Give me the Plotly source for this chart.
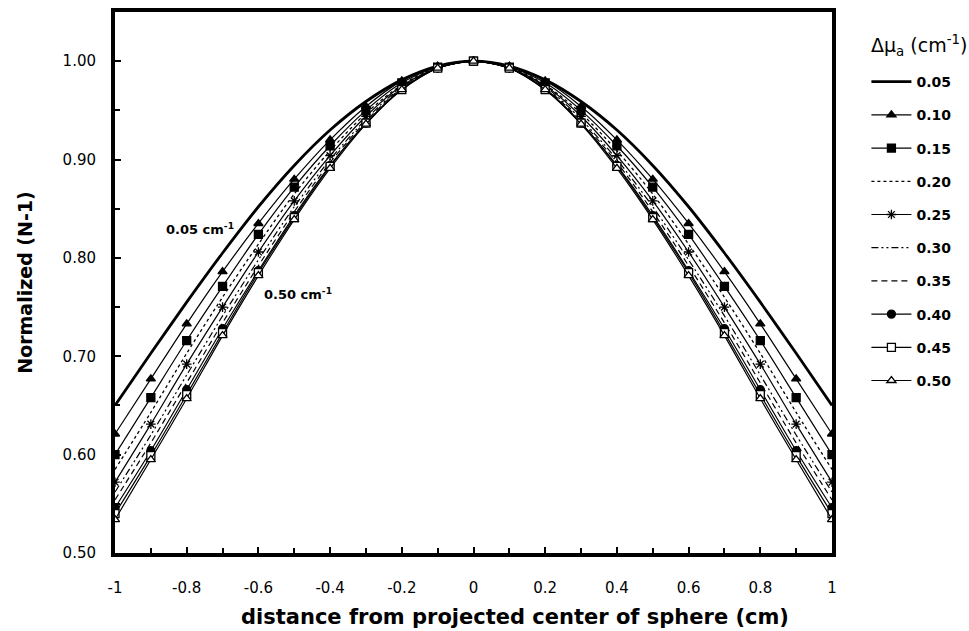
import plotly.graph_objects as go

# distance from projected center of sphere (cm)
x = [-1.0, -0.9, -0.8, -0.7, -0.6, -0.5, -0.4, -0.3, -0.2, -0.1, 0.0,
     0.1, 0.2, 0.3, 0.4, 0.5, 0.6, 0.7, 0.8, 0.9, 1.0]

labels = ["0.05", "0.10", "0.15", "0.20", "0.25", "0.30", "0.35", "0.40", "0.45", "0.50"]

# normalized (N-1) for each absorption change
y_005 = [0.650, 0.703, 0.755, 0.805, 0.852, 0.894, 0.930, 0.959, 0.981, 0.995, 1.000,
         0.995, 0.981, 0.959, 0.930, 0.894, 0.852, 0.805, 0.755, 0.703, 0.650]
y_010 = [0.621, 0.677, 0.733, 0.786, 0.835, 0.880, 0.920, 0.954, 0.980, 0.995, 1.000,
         0.995, 0.980, 0.954, 0.920, 0.880, 0.835, 0.786, 0.733, 0.677, 0.621]
y_015 = [0.600, 0.658, 0.716, 0.771, 0.824, 0.872, 0.914, 0.950, 0.978, 0.994, 1.000,
         0.994, 0.978, 0.950, 0.914, 0.872, 0.824, 0.771, 0.716, 0.658, 0.600]
y_020 = [0.585, 0.643, 0.703, 0.760, 0.814, 0.865, 0.909, 0.947, 0.976, 0.994, 1.000,
         0.994, 0.976, 0.947, 0.909, 0.865, 0.814, 0.760, 0.703, 0.643, 0.585]
y_025 = [0.572, 0.631, 0.692, 0.750, 0.806, 0.858, 0.904, 0.944, 0.975, 0.993, 1.000,
         0.993, 0.975, 0.944, 0.904, 0.858, 0.806, 0.750, 0.692, 0.631, 0.572]
y_030 = [0.562, 0.620, 0.681, 0.741, 0.798, 0.852, 0.900, 0.941, 0.974, 0.993, 1.000,
         0.993, 0.974, 0.941, 0.900, 0.852, 0.798, 0.741, 0.681, 0.620, 0.562]
y_035 = [0.554, 0.612, 0.673, 0.734, 0.792, 0.847, 0.897, 0.939, 0.973, 0.993, 1.000,
         0.993, 0.973, 0.939, 0.897, 0.847, 0.792, 0.734, 0.673, 0.612, 0.554]
y_040 = [0.546, 0.604, 0.666, 0.728, 0.787, 0.843, 0.894, 0.937, 0.972, 0.993, 1.000,
         0.993, 0.972, 0.937, 0.894, 0.843, 0.787, 0.728, 0.666, 0.604, 0.546]
y_045 = [0.540, 0.599, 0.661, 0.724, 0.785, 0.841, 0.893, 0.937, 0.971, 0.993, 1.000,
         0.993, 0.971, 0.937, 0.893, 0.841, 0.785, 0.724, 0.661, 0.599, 0.540]
y_050 = [0.534, 0.595, 0.657, 0.721, 0.782, 0.839, 0.891, 0.936, 0.971, 0.993, 1.000,
         0.993, 0.971, 0.936, 0.891, 0.839, 0.782, 0.721, 0.657, 0.595, 0.534]

series = [y_005, y_010, y_015, y_020, y_025, y_030, y_035, y_040, y_045, y_050]

x_tickvals = [-1, -0.8, -0.6, -0.4, -0.2, 0, 0.2, 0.4, 0.6, 0.8, 1]
x_ticktext = ["-1", "-0.8", "-0.6", "-0.4", "-0.2", "0", "0.2", "0.4", "0.6", "0.8", "1"]
y_tickvals = [0.5, 0.6, 0.7, 0.8, 0.9, 1.0]
y_ticktext = ["0.50", "0.60", "0.70", "0.80", "0.90", "1.00"]

FONT = "DejaVu Sans"

# line / marker style per series
styles = [
    dict(width=2.8, dash="solid", symbol=None, fill="black"),
    dict(width=1.2, dash="solid", symbol="triangle-up", fill="black"),
    dict(width=1.2, dash="solid", symbol="square", fill="black"),
    dict(width=1.3, dash="dot", symbol=None, fill="black"),
    dict(width=1.2, dash="solid", symbol="asterisk-open", fill="black"),
    dict(width=1.2, dash="7px,3px,2px,3px,2px,3px", symbol=None, fill="black"),
    dict(width=1.2, dash="6px,4px", symbol=None, fill="black"),
    dict(width=1.2, dash="solid", symbol="circle", fill="black"),
    dict(width=1.2, dash="solid", symbol="square", fill="white"),
    dict(width=1.2, dash="solid", symbol="triangle-up", fill="white"),
]

fig = go.Figure()
for name, ys, st in zip(labels, series, styles):
    if st["symbol"] is None:
        mode = "lines"
        marker = None
    else:
        mode = "lines+markers"
        marker = dict(symbol=st["symbol"], size=8, color=st["fill"],
                      line=dict(color="black", width=1.3))
    fig.add_trace(go.Scatter(
        x=x, y=ys, name=f"<b>{name}</b>", mode=mode, marker=marker,
        line=dict(color="black", width=st["width"], dash=st["dash"],
                  shape="spline", smoothing=0.8),
        legendgroup=name,
    ))

fig.add_annotation(x=-0.763, y=0.829, text="<b>0.05 cm<sup>-1</sup></b>",
                   showarrow=False, font=dict(family=FONT, size=13, color="black"))
fig.add_annotation(x=-0.49, y=0.763, text="<b>0.50 cm<sup>-1</sup></b>",
                   showarrow=False, font=dict(family=FONT, size=13, color="black"))

# legend heading
fig.add_annotation(xref="paper", yref="paper", x=1.121, y=0.938,
                   xanchor="center", yanchor="middle",
                   text="Δμ<sub>a</sub> (cm<sup>-1</sup>)", showarrow=False,
                   font=dict(family=FONT, size=19, color="black"))

# x-axis title
fig.add_annotation(xref="paper", yref="paper", x=0.558, y=-0.119,
                   xanchor="center", yanchor="middle",
                   text="<b>distance from projected center of sphere (cm)</b>",
                   showarrow=False, font=dict(family=FONT, size=21, color="black"))

fig.update_layout(
    width=969, height=631,
    margin=dict(l=115, r=137, t=8, b=78),
    paper_bgcolor="white", plot_bgcolor="white",
    font=dict(family=FONT, color="black", size=15),
    legend=dict(
        x=1.048, xanchor="left", y=0.9, yanchor="top",
        font=dict(family=FONT, size=14),
        tracegroupgap=12, itemwidth=40,
        bgcolor="rgba(0,0,0,0)",
    ),
    xaxis=dict(
        range=[-1, 1], tickvals=x_tickvals, ticktext=x_ticktext,
        ticks="inside", ticklen=6, tickwidth=2, tickcolor="black",
        minor=dict(dtick=0.1, tick0=0, ticks="inside", ticklen=5,
                   tickwidth=2, tickcolor="black"),
        showline=True, linewidth=4, linecolor="black", mirror=True,
        showgrid=False, zeroline=False,
        ticklabelstandoff=18,
    ),
    yaxis=dict(
        range=[0.5, 1.05], tickvals=y_tickvals, ticktext=y_ticktext,
        ticks="inside", ticklen=6, tickwidth=2, tickcolor="black",
        minor=dict(dtick=0.05, tick0=0, ticks="inside", ticklen=5,
                   tickwidth=2, tickcolor="black"),
        showline=True, linewidth=4, linecolor="black", mirror=True,
        showgrid=False, zeroline=False,
        ticklabelstandoff=12,
        title=dict(text="<b>Normalized (N-1)</b>",
                   font=dict(family=FONT, size=19), standoff=26),
    ),
)

fig.write_html("out.html")
